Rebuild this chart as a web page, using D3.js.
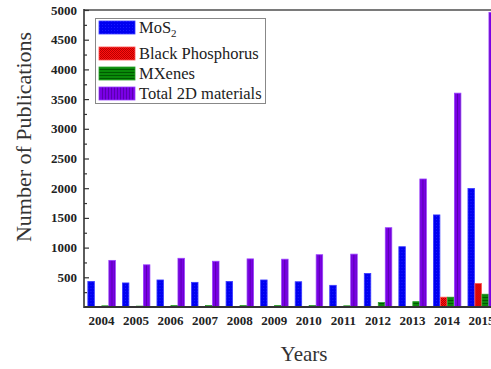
<!DOCTYPE html>
<html>
<head>
<meta charset="utf-8">
<script src="https://cdn.jsdelivr.net/npm/d3@7"></script>
<style>
  html, body { margin: 0; padding: 0; background: #fff; overflow: hidden; }
  svg { display: block; font-family: "Liberation Serif", "Times New Roman", serif; }
</style>
</head>
<body>
<svg id="chart" width="491" height="369"></svg>
<script>
// Publications per year for each 2D material family
const years = ["2004","2005","2006","2007","2008","2009","2010","2011","2012","2013","2014","2015"];
const mos2 = [430, 405, 455, 415, 430, 455, 425, 365, 565, 1015, 1550, 1995];
const blackPhosphorus = [0, 0, 0, 0, 0, 0, 5, 5, 5, 5, 165, 395];
const mxenes = [20, 15, 25, 25, 25, 25, 25, 20, 75, 90, 165, 215];
const total2d = [785, 710, 820, 770, 810, 805, 880, 890, 1335, 2155, 3600, 4960];
const seriesNames = ["MoS2", "Black Phosphorus", "MXenes", "Total 2D materials"];
const yTicks = [500, 1000, 1500, 2000, 2500, 3000, 3500, 4000, 4500, 5000];

const series = [mos2, blackPhosphorus, mxenes, total2d];

const svg = d3.select("#chart");
const plotLeft = 84, plotTop = 10, plotBottom = 307, plotRight = 499;

// Fill patterns for each series
const defs = svg.append("defs");
function pattern(id, w, h, bg, draw) {
  const p = defs.append("pattern").attr("id", id).attr("patternUnits", "userSpaceOnUse")
    .attr("width", w).attr("height", h);
  p.append("rect").attr("width", w).attr("height", h).attr("fill", bg);
  draw(p);
}
pattern("pBlue", 3, 3, "#0000f0", p => {
  p.append("rect").attr("x", 0).attr("y", 0).attr("width", 1).attr("height", 1).attr("fill", "#1a1aff");
});
pattern("pRed", 2, 2, "#ff1010", p => {
  p.append("rect").attr("x", 0).attr("y", 0).attr("width", 1).attr("height", 1).attr("fill", "#b80000");
  p.append("rect").attr("x", 1).attr("y", 1).attr("width", 1).attr("height", 1).attr("fill", "#b80000");
});
pattern("pGreen", 3, 3, "#0a8a0a", p => {
  p.append("rect").attr("x", 0).attr("y", 0).attr("width", 3).attr("height", 1).attr("fill", "#005a00");
});
pattern("pPurple", 3, 3, "#7a00e6", p => {
  p.append("rect").attr("x", 0).attr("y", 0).attr("width", 1).attr("height", 3).attr("fill", "#5a00b0");
});
const fills = ["url(#pBlue)", "url(#pRed)", "url(#pGreen)", "url(#pPurple)"];
const edges = ["#3a3aff", "#ff5050", "#2aa02a", "#9a40ff"];

const x = d3.scaleBand().domain(years).range([plotLeft, plotRight]).paddingInner(0.19).paddingOuter(0.1);
const xs = d3.scaleBand().domain(d3.range(series.length)).range([0, x.bandwidth()]);
const y = d3.scaleLinear().domain([0, 5000]).range([plotBottom, plotTop]);

// Bars
const groups = svg.append("g").selectAll("g").data(years).join("g")
  .attr("transform", d => `translate(${x(d)},0)`);
groups.selectAll("rect")
  .data((d, i) => series.map((s, k) => ({ k, v: s[i] })).filter(e => e.v > 0))
  .join("rect")
  .attr("x", d => xs(d.k) + 0.4)
  .attr("width", xs.bandwidth() - 0.5)
  .attr("y", d => y(d.v))
  .attr("height", d => plotBottom - y(d.v))
  .attr("fill", d => fills[d.k])
  .attr("stroke", d => edges[d.k])
  .attr("stroke-width", 0.8);

// Top frame
svg.append("line").attr("x1", plotLeft).attr("x2", plotRight + 5).attr("y1", plotTop).attr("y2", plotTop)
  .attr("stroke", "#7a7a7a").attr("stroke-width", 2);

// Y axis with inward major and minor ticks
const gy = svg.append("g").attr("transform", `translate(${plotLeft},0)`)
  .call(d3.axisRight(y).tickValues(yTicks).tickSize(5).tickFormat(""));
gy.select(".domain").remove();
gy.selectAll(".tick line").attr("stroke", "#333").attr("stroke-width", 1.2);
const minor = d3.range(250, 5000, 500);
svg.append("g").attr("transform", `translate(${plotLeft},0)`)
  .call(d3.axisRight(y).tickValues(minor).tickSize(3).tickFormat(""))
  .call(g => g.select(".domain").remove())
  .selectAll(".tick line").attr("stroke", "#333").attr("stroke-width", 1.2);
svg.append("line").attr("x1", plotLeft).attr("x2", plotLeft).attr("y1", plotTop - 1).attr("y2", plotBottom + 1)
  .attr("stroke", "#333").attr("stroke-width", 1.6);

// Y tick labels
svg.append("g").selectAll("text").data(yTicks).join("text")
  .attr("x", 77).attr("y", d => y(d)).attr("dy", "0.35em")
  .attr("text-anchor", "end").attr("font-size", 13).attr("font-weight", "bold").attr("fill", "#222")
  .text(d => d);

// X axis baseline and labels
svg.append("line").attr("x1", plotLeft).attr("x2", plotRight + 5).attr("y1", plotBottom).attr("y2", plotBottom)
  .attr("stroke", "#333").attr("stroke-width", 2);
svg.append("g").selectAll("text").data(years).join("text")
  .attr("x", d => x(d) + x.bandwidth() / 2).attr("y", 325)
  .attr("text-anchor", "middle").attr("font-size", 13).attr("font-weight", "bold").attr("fill", "#222")
  .text(d => d);

// Axis titles
svg.append("text").attr("x", 304).attr("y", 361).attr("text-anchor", "middle")
  .attr("font-size", 21).attr("fill", "#333").text("Years");
svg.append("text").attr("transform", "translate(31,137) rotate(-90)").attr("text-anchor", "middle")
  .attr("font-size", 22).attr("fill", "#333").text("Number of Publications");

// Legend
const lg = svg.append("g");
lg.append("rect").attr("x", 95.5).attr("y", 18.5).attr("width", 170).attr("height", 85)
  .attr("fill", "#fff").attr("stroke", "#888").attr("stroke-width", 1);
const rowY = [21, 47, 67, 87];
seriesNames.forEach((name, k) => {
  lg.append("rect").attr("x", 99).attr("y", rowY[k]).attr("width", 36).attr("height", 13)
    .attr("fill", fills[k]).attr("stroke", edges[k]).attr("stroke-width", 0.8);
  const t = lg.append("text").attr("x", 139).attr("y", rowY[k] + 12).attr("font-size", 16.5).attr("fill", "#222");
  if (name === "MoS2") {
    t.text("MoS");
    t.append("tspan").attr("font-size", 11).attr("dy", 4).text("2");
  } else {
    t.text(name);
  }
});
</script>
</body>
</html>
